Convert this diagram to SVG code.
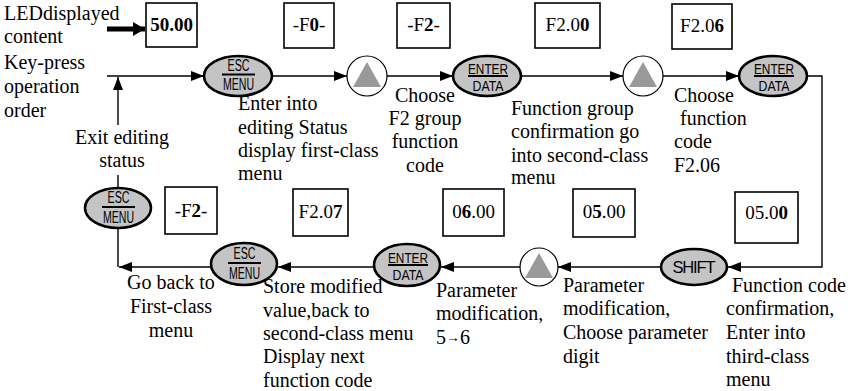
<svg xmlns="http://www.w3.org/2000/svg" width="856" height="391" viewBox="0 0 856 391">
<defs>
<marker id="ah" markerWidth="13" markerHeight="10" refX="13" refY="5" orient="auto" markerUnits="userSpaceOnUse">
<path d="M0,0 L13,5 L0,10 Z" fill="#000"/>
</marker>
<marker id="ahb" markerWidth="13" markerHeight="14" refX="12" refY="7" orient="auto" markerUnits="userSpaceOnUse">
<path d="M0,0 L12,7 L0,14 Z" fill="#000"/>
</marker>
</defs>
<style>
.t{font-family:"Liberation Serif","Times New Roman",serif;font-size:20px;fill:#000}
.bx{fill:#fff;stroke:#000;stroke-width:1.6}
.bt{font-family:"Liberation Serif","Times New Roman",serif;font-size:19px;fill:#000;text-anchor:middle}
.b{font-weight:bold}
.key{fill:#c4c4c4;stroke:#000;stroke-width:2.6}
.kt{font-family:"Liberation Sans",Arial,sans-serif;font-size:16.5px;fill:#000;text-anchor:middle}
.ke{font-size:15px}
.kl{stroke:#000;stroke-width:2}
.up{fill:#fff;stroke:#000;stroke-width:1.2}
.tri{fill:#999}
.c{fill:none;stroke:#000;stroke-width:1.4}
</style>

<g id="connectors">
<line class="c" x1="107" y1="76" x2="204" y2="76" marker-end="url(#ah)"/>
<line class="c" x1="272" y1="76" x2="347" y2="76" marker-end="url(#ah)"/>
<line class="c" x1="387" y1="76" x2="453" y2="76" marker-end="url(#ah)"/>
<line class="c" x1="521" y1="76" x2="623" y2="76" marker-end="url(#ah)"/>
<line class="c" x1="663" y1="76" x2="739" y2="76" marker-end="url(#ah)"/>
<polyline class="c" points="807,76 822,76 822,267 728,267" marker-end="url(#ah)"/>
<line class="c" x1="660" y1="267" x2="558" y2="267" marker-end="url(#ah)"/>
<line class="c" x1="520" y1="267" x2="441" y2="267" marker-end="url(#ah)"/>
<line class="c" x1="373" y1="267" x2="278" y2="267" marker-end="url(#ah)"/>
<line class="c" x1="211" y1="267" x2="119" y2="267" marker-end="url(#ah)"/>
<line class="c" x1="118" y1="267" x2="118" y2="175"/>
<line class="c" x1="118" y1="125" x2="118" y2="77" marker-end="url(#ah)"/>
<line x1="107" y1="29" x2="145" y2="29" stroke="#000" stroke-width="5" marker-end="url(#ahb)"/>
</g>

<g id="legend">
<text class="t" x="4" y="20">LEDdisplayed</text>
<text class="t" x="4" y="43">content</text>
<text class="t" x="4" y="69">Key-press</text>
<text class="t" x="4" y="93">operation</text>
<text class="t" x="4" y="117">order</text>
</g>

<g id="box-5000"><rect class="bx" x="146" y="3" width="51" height="44"/><text class="bt b" x="171.5" y="31">50.00</text></g>
<g id="box-F0"><rect class="bx" x="284" y="3" width="50" height="45"/><text class="bt" x="309" y="31">-F<tspan class="b">0</tspan>-</text></g>
<g id="box-F2"><rect class="bx" x="397" y="3" width="53" height="45"/><text class="bt" x="423.5" y="31">-F<tspan class="b">2</tspan>-</text></g>
<g id="box-F200"><rect class="bx" x="535" y="3" width="65" height="45"/><text class="bt" x="567.5" y="31">F2.0<tspan class="b">0</tspan></text></g>
<g id="box-F206"><rect class="bx" x="672" y="4" width="60" height="45"/><text class="bt" x="702" y="32">F2.0<tspan class="b">6</tspan></text></g>

<g id="key-esc1"><ellipse class="key" cx="238" cy="76" rx="34" ry="20"/>
<text class="kt" transform="translate(238.5,71) scale(0.65,1)">ESC</text>
<line class="kl" x1="222" y1="74.5" x2="255" y2="74.5"/>
<text class="kt" transform="translate(238.5,90) scale(0.64,1)">MENU</text></g>

<g id="key-up1"><circle class="up" cx="367" cy="76" r="20"/><polygon class="tri" points="367,62 381,87 353,87"/></g>

<g id="key-enter1"><ellipse class="key" cx="487" cy="76" rx="34" ry="20"/>
<text class="kt ke" x="488" y="73.5" textLength="40" lengthAdjust="spacingAndGlyphs">ENTER</text>
<line class="kl" x1="468" y1="76" x2="508" y2="76"/>
<text class="kt ke" x="488" y="90.5" textLength="31" lengthAdjust="spacingAndGlyphs">DATA</text></g>

<g id="key-up2"><circle class="up" cx="643" cy="76" r="20"/><polygon class="tri" points="643,62 657,87 629,87"/></g>

<g id="key-enter2"><ellipse class="key" cx="773" cy="76" rx="34" ry="20"/>
<text class="kt ke" x="774" y="73.5" textLength="40" lengthAdjust="spacingAndGlyphs">ENTER</text>
<line class="kl" x1="754" y1="76" x2="794" y2="76"/>
<text class="kt ke" x="774" y="90.5" textLength="31" lengthAdjust="spacingAndGlyphs">DATA</text></g>

<g id="lbl-enter-edit">
<text class="t" x="238" y="110">Enter into</text>
<text class="t" x="238" y="134">editing Status</text>
<text class="t" x="238" y="157">display first-class</text>
<text class="t" x="238" y="180">menu</text>
</g>
<g id="lbl-choose-f2" text-anchor="middle">
<text class="t" x="425" y="102">Choose</text>
<text class="t" x="425" y="125">F2 group</text>
<text class="t" x="425" y="148">function</text>
<text class="t" x="425" y="172">code</text>
</g>
<g id="lbl-func-group">
<text class="t" x="511" y="115">Function group</text>
<text class="t" x="511" y="138">confirmation go</text>
<text class="t" x="511" y="162">into second-class</text>
<text class="t" x="511" y="184">menu</text>
</g>
<g id="lbl-choose-code">
<text class="t" x="674" y="102">Choose</text>
<text class="t" x="680" y="125">function</text>
<text class="t" x="674" y="148">code</text>
<text class="t" x="674" y="172">F2.06</text>
</g>
<g id="lbl-exit" text-anchor="middle">
<text class="t" x="122" y="144">Exit editing</text>
<text class="t" x="122" y="167">status</text>
</g>

<g id="key-esc3"><ellipse class="key" cx="118" cy="208" rx="33" ry="20"/>
<text class="kt" transform="translate(118.5,203) scale(0.65,1)">ESC</text>
<line class="kl" x1="102" y1="207" x2="135" y2="207"/>
<text class="kt" transform="translate(118.5,223) scale(0.64,1)">MENU</text></g>

<g id="box-F2b"><rect class="bx" x="165" y="187" width="52" height="47"/><text class="bt" x="191" y="217">-F<tspan class="b">2</tspan>-</text></g>
<g id="box-F207"><rect class="bx" x="293" y="189" width="55" height="47"/><text class="bt" x="320.5" y="218">F2.0<tspan class="b">7</tspan></text></g>
<g id="box-0600"><rect class="bx" x="443" y="189" width="61" height="47"/><text class="bt" x="473.5" y="218">0<tspan class="b">6</tspan>.00</text></g>
<g id="box-0500"><rect class="bx" x="573" y="189" width="62" height="48"/><text class="bt" x="604" y="218">0<tspan class="b">5</tspan>.00</text></g>
<g id="box-0500b"><rect class="bx" x="735" y="192" width="63" height="51"/><text class="bt" x="766.5" y="219">05.0<tspan class="b">0</tspan></text></g>

<g id="key-shift"><ellipse class="key" cx="694" cy="267" rx="33" ry="18"/>
<text class="kt" x="694" y="273" font-size="15" textLength="43" lengthAdjust="spacing">SHIFT</text></g>

<g id="key-up3"><circle class="up" cx="539" cy="267" r="19"/><polygon class="tri" points="539,253 553,278 525,278"/></g>

<g id="key-enter3"><ellipse class="key" cx="407" cy="265" rx="33" ry="21"/>
<text class="kt ke" x="408" y="262.5" textLength="40" lengthAdjust="spacingAndGlyphs">ENTER</text>
<line class="kl" x1="388" y1="265" x2="428" y2="265"/>
<text class="kt ke" x="408" y="279.5" textLength="31" lengthAdjust="spacingAndGlyphs">DATA</text></g>

<g id="key-esc2"><ellipse class="key" cx="244" cy="264" rx="33" ry="21"/>
<text class="kt" transform="translate(244.5,259) scale(0.65,1)">ESC</text>
<line class="kl" x1="228" y1="263" x2="261" y2="263"/>
<text class="kt" transform="translate(244.5,279) scale(0.64,1)">MENU</text></g>

<g id="lbl-func-confirm">
<text class="t" x="732" y="292">Function code</text>
<text class="t" x="726" y="315">confirmation,</text>
<text class="t" x="726" y="339">Enter into</text>
<text class="t" x="726" y="363">third-class</text>
<text class="t" x="726" y="386">menu</text>
</g>
<g id="lbl-param-digit">
<text class="t" x="563" y="292">Parameter</text>
<text class="t" x="563" y="315">modification,</text>
<text class="t" x="563" y="339">Choose parameter</text>
<text class="t" x="563" y="363">digit</text>
</g>
<g id="lbl-param-mod">
<text class="t" x="436" y="297">Parameter</text>
<text class="t" x="436" y="320">modification,</text>
<text class="t" x="436" y="344">5<tspan font-size="14" dy="-2">→</tspan><tspan dy="2">6</tspan></text>
</g>
<g id="lbl-store">
<text class="t" x="263" y="293">Store modified</text>
<text class="t" x="263" y="317">value,back to</text>
<text class="t" x="263" y="340">second-class menu</text>
<text class="t" x="263" y="363">Display next</text>
<text class="t" x="263" y="387">function code</text>
</g>
<g id="lbl-goback" text-anchor="middle">
<text class="t" x="171" y="289">Go back to</text>
<text class="t" x="171" y="313">First-class</text>
<text class="t" x="171" y="337">menu</text>
</g>
</svg>
